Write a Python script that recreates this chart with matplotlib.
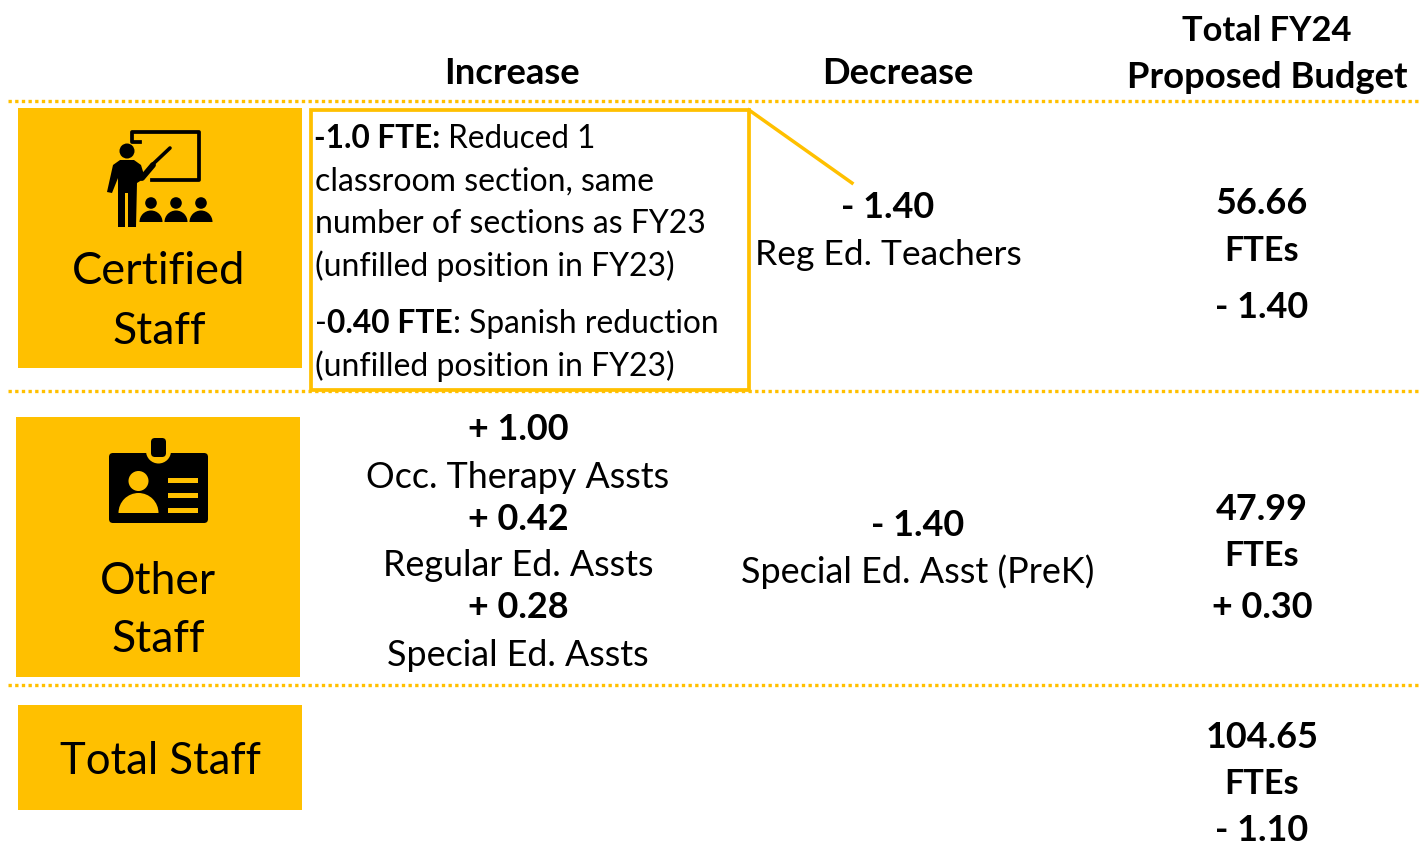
import matplotlib
matplotlib.use('Agg')
import matplotlib.pyplot as plt
from matplotlib.patches import Rectangle, Circle, FancyBboxPatch, Wedge, Polygon

plt.rcParams['font.family'] = ['Lato', 'DejaVu Sans']

GOLD = '#FFC000'
W, H = 1421, 843

# ---- content ----
column_headers = ['Increase', 'Decrease', 'Total FY24', 'Proposed Budget']
staff_groups = ['Certified', 'Staff', 'Other', 'Staff', 'Total Staff']
certified_note_1 = [('-1.0 FTE:', True), (' Reduced 1', False)]
certified_note_lines = ['classroom section, same', 'number of sections as FY23', '(unfilled position in FY23)']
certified_note_2 = [('-', False), ('0.40 FTE', True), (': Spanish reduction', False)]
certified_note_3 = '(unfilled position in FY23)'
certified_decrease = ['- 1.40', 'Reg Ed. Teachers']
certified_total = ['56.66', 'FTEs', '- 1.40']
other_increase_values = ['+ 1.00', '+ 0.42', '+ 0.28']
other_increase_labels = ['Occ. Therapy Assts', 'Regular Ed. Assts', 'Special Ed. Assts']
other_decrease = ['- 1.40', 'Special Ed. Asst (PreK)']
other_total = ['47.99', 'FTEs', '+ 0.30']
grand_total = ['104.65', 'FTEs', '- 1.10']

BODY = 25.7
HEAD = 26.2
BOLD = 25.9
NOTE = 23.0
LABEL = 32

fig = plt.figure(figsize=(W / 100, H / 100), dpi=100, facecolor='white')
ax = fig.add_axes([0, 0, 1, 1])
ax.set_xlim(0, W)
ax.set_ylim(H, 0)
ax.axis('off')


def t(x, y, s, bold=False, size=BODY, ha='center'):
    return ax.text(x, y, s, ha=ha, va='center_baseline', fontsize=size,
                   fontweight='bold' if bold else 'normal', color='black',
                   zorder=8)


def runs(x, y, parts, size=NOTE):
    r = fig.canvas.get_renderer()
    for s, b in parts:
        t(x, y, s, bold=b, size=size, ha='left')
        probe = ax.text(0, 0, s.replace(' ', '\u00a0'), fontsize=size,
                        fontweight='bold' if b else 'normal')
        x += probe.get_window_extent(r).width
        probe.remove()


# dotted separators
for y in (101, 391, 685):
    ax.plot([8, W], [y, y], color=GOLD, lw=2.4, ls=(0, (1, 1)), zorder=1)

# coloured blocks
for x0, y0, x1, y1 in ((18, 108, 302, 368), (16, 417, 300, 677), (18, 705, 302, 810)):
    ax.add_patch(Rectangle((x0, y0), x1 - x0, y1 - y0, fc=GOLD, ec='none', zorder=2))

# group labels
for (x, y), s, sz in zip(((159, 267), (159, 327), (158, 577), (158, 635), (160, 758)),
                         staff_groups, (LABEL + 0.6, LABEL, LABEL, LABEL, LABEL - 0.6)):
    t(x, y, s, size=sz)

# headers
t(512, 70, column_headers[0], bold=True, size=HEAD)
t(898, 70, column_headers[1], bold=True, size=HEAD)
t(1267, 28, column_headers[2], bold=True, size=HEAD - 1.4)
t(1267, 75, column_headers[3], bold=True, size=HEAD)

# note box and callout
ax.add_patch(Rectangle((311, 110), 438, 280, fc='white', ec=GOLD, lw=2.7, zorder=3))
ax.plot([749, 852], [110, 183], color=GOLD, lw=2.5, zorder=3)
runs(314, 136, certified_note_1, size=NOTE - 0.3)
for y, s in zip((179, 221, 263), certified_note_lines):
    t(315, y, s, ha='left', size=NOTE)
runs(315, 321, certified_note_2, size=NOTE - 0.1)
t(315, 363, certified_note_3, ha='left', size=NOTE)

# decrease column
t(888, 205, certified_decrease[0], bold=True, size=BOLD)
t(888, 252, certified_decrease[1], size=BODY - 0.2)
t(918, 522, other_decrease[0], bold=True, size=BOLD)
t(918, 569, other_decrease[1], size=BODY + 0.2)

# increase column
for y, s in zip((426, 516, 605), other_increase_values):
    t(518, y, s, bold=True, size=BOLD)
for y, s in zip((474, 563, 653), other_increase_labels):
    t(518, y, s, size=BODY + 0.1)

# totals
for ys, vals in (((201, 248, 304), certified_total),
                 ((506, 553, 604), other_total),
                 ((734, 781, 827.5), grand_total)):
    for y, s in zip(ys, vals):
        t(1262, y, s, bold=True, size=24.6 if s == 'FTEs' else BOLD)

# teacher icon
K = 'black'
z = 5
ax.plot([140, 132, 132, 199, 199, 152], [142, 142, 132, 132, 180, 180], color=K, lw=2.7,
        solid_joinstyle='round', zorder=z)
ax.add_patch(Circle((127, 151), 7.5, fc=K, ec='none', zorder=z))
ax.add_patch(Polygon([(113, 165), (120, 160), (134, 160), (141, 165), (145, 178), (137, 183),
                      (136, 227), (128, 227), (128, 193), (125, 193), (125, 227),
                      (118, 227), (118, 178), (112, 193), (107, 192)],
                     fc=K, ec='none', zorder=z))
ax.plot([142, 153], [178, 165], color=K, lw=4.2, solid_capstyle='round', zorder=z)
ax.plot([152, 170], [165, 148], color=K, lw=2.6, solid_capstyle='round', zorder=z)
for cx in (151, 176, 201):
    ax.add_patch(Circle((cx, 203), 5.8, fc=K, ec='none', zorder=z))
    ax.add_patch(Wedge((cx, 222), 11.5, 180, 360, fc=K, ec='none', zorder=z))

# badge icon
ax.add_patch(FancyBboxPatch((112, 456), 93, 64, boxstyle='round,pad=3,rounding_size=4',
                            fc=K, ec='none', zorder=z))
ax.add_patch(Circle((158.5, 451), 12.5, fc=GOLD, ec='none', zorder=z + 1))
ax.add_patch(FancyBboxPatch((153, 440), 11, 15, boxstyle='round,pad=2,rounding_size=4',
                            fc=K, ec='none', zorder=z + 2))
ax.add_patch(Circle((138.5, 481), 10, fc=GOLD, ec='none', zorder=z + 1))
ax.add_patch(Wedge((138.5, 513), 20, 180, 360, fc=GOLD, ec='none', zorder=z + 1))
for y in (478, 493, 508):
    ax.add_patch(Rectangle((168, y), 30, 5.3, fc=GOLD, ec='none', zorder=z + 1))

fig.savefig('out.png', dpi=100, facecolor='white')
